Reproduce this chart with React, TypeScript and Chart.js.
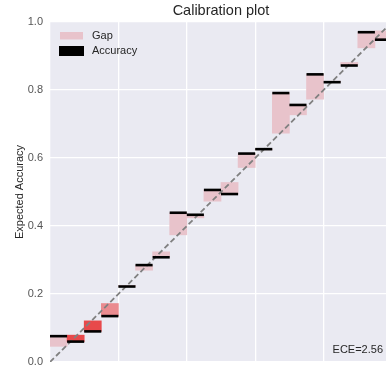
import { useEffect, useRef } from "react";
import { Chart, registerables } from "chart.js";

Chart.register(...registerables);

// Reliability diagram: 20 equal-width confidence bins
const binWidth = 0.05;
const binCenters = [
  0.025, 0.075, 0.125, 0.175, 0.225, 0.275, 0.325, 0.375, 0.425, 0.475,
  0.525, 0.575, 0.625, 0.675, 0.725, 0.775, 0.825, 0.875, 0.925, 0.975,
];
const accuracy = [
  0.076, 0.06, 0.09, 0.135, 0.222, 0.285, 0.308, 0.439, 0.433, 0.506,
  0.494, 0.613, 0.626, 0.791, 0.756, 0.846, 0.823, 0.872, 0.97, 0.948,
];
const confidence = [
  0.046, 0.079, 0.121, 0.172, 0.225, 0.27, 0.324, 0.374, 0.424, 0.473,
  0.528, 0.572, 0.624, 0.673, 0.727, 0.773, 0.826, 0.881, 0.924, 0.974,
];
const gapColors = [
  "#E8C3CB", "#E8494B", "#E8494B", "#EA8B8F", "#E8C3CB", "#E8C3CB", "#E8C3CB",
  "#E8C3CB", "#E8C3CB", "#E8C3CB", "#E8C3CB", "#E8C3CB", "#E8C3CB", "#E8C3CB",
  "#E8C3CB", "#E8C3CB", "#E8C3CB", "#E8C3CB", "#E8C3CB", "#E8C3CB",
];
const yTicks = [0, 0.2, 0.4, 0.6, 0.8, 1.0];
const eceLabel = "ECE=2.56";

const FONT = "'Liberation Sans', Arial, sans-serif";
const PANEL_BG = "#EAEAF2";
const GAP_COLOR = "#E8C3CB";
const TEXT_COLOR = "#262626";

const panelBackground = {
  id: "panelBackground",
  beforeDraw(chart: any) {
    const { ctx, chartArea } = chart;
    ctx.save();
    ctx.fillStyle = PANEL_BG;
    ctx.fillRect(chartArea.left, chartArea.top, chartArea.right - chartArea.left, chartArea.bottom - chartArea.top);
    ctx.restore();
  },
};

const insetAnnotations = {
  id: "insetAnnotations",
  afterDraw(chart: any) {
    const { ctx, chartArea } = chart;
    const ds = chart.data.datasets;
    ctx.save();
    ctx.font = `11px ${FONT}`;
    ctx.textBaseline = "middle";
    ctx.textAlign = "left";
    // legend inside upper-left corner
    const lx = chartArea.left + 10;
    ctx.fillStyle = GAP_COLOR;
    ctx.fillRect(lx, chartArea.top + 10, 23, 7.5);
    ctx.fillStyle = "#000";
    ctx.fillRect(lx - 1, chartArea.top + 24, 25, 10);
    ctx.fillStyle = TEXT_COLOR;
    ctx.fillText(ds[0].label, lx + 32, chartArea.top + 13.5);
    ctx.fillText(ds[2].label, lx + 32, chartArea.top + 29);
    // calibration error, lower-right
    ctx.textAlign = "right";
    ctx.fillText(eceLabel, chartArea.right - 9, chartArea.bottom - 12);
    ctx.restore();
  },
};

export default function App() {
  const canvasRef = useRef<HTMLCanvasElement | null>(null);

  useEffect(() => {
    if (!canvasRef.current) return;
    Chart.defaults.font.family = FONT;

    const halfBin = (ctx: any) => {
      const s = ctx.chart.scales.x;
      return Math.abs(s.getPixelForValue(binWidth) - s.getPixelForValue(0)) / 2;
    };

    const chart = new Chart(canvasRef.current, {
      type: "bar",
      data: {
        datasets: [
          {
            type: "bar",
            label: "Gap",
            data: binCenters.map((x, i) => ({ x, y: [confidence[i], accuracy[i]] })) as any,
            backgroundColor: gapColors,
            borderWidth: 0,
            barPercentage: 1,
            categoryPercentage: 1,
            order: 3,
          },
          {
            type: "line",
            label: "Perfect calibration",
            data: [
              { x: 0, y: 0 },
              { x: 1, y: 1 },
            ],
            borderColor: "#808080",
            borderWidth: 1.8,
            borderDash: [5.5, 3],
            pointRadius: 0,
            fill: false,
            order: 2,
          },
          {
            type: "scatter",
            label: "Accuracy",
            data: binCenters.map((x, i) => ({ x, y: accuracy[i] })),
            pointStyle: "line",
            pointRadius: halfBin,
            pointHoverRadius: halfBin,
            borderColor: "#000",
            backgroundColor: "#000",
            borderWidth: 2.6,
            order: 1,
          },
        ] as any,
      },
      options: {
        responsive: false,
        animation: false,
        devicePixelRatio: 1,
        layout: { padding: { left: 0, right: 8, top: 0, bottom: 38 } },
        plugins: {
          legend: { display: false },
          tooltip: { enabled: false },
          title: {
            display: true,
            fullSize: false,
            text: "Calibration plot",
            color: TEXT_COLOR,
            font: { size: 14.5, weight: "normal", family: FONT },
            padding: { top: 2, bottom: 2.6 },
          },
        },
        scales: {
          x: {
            type: "linear",
            min: 0,
            max: 1,
            offset: false,
            border: { display: false },
            grid: { color: "#FFFFFF", lineWidth: 1.3, drawTicks: false, offset: false },
            ticks: { display: false, stepSize: 0.2 },
          },
          y: {
            type: "linear",
            min: 0,
            max: 1,
            border: { display: false },
            grid: { color: "#FFFFFF", lineWidth: 1.3, drawTicks: false },
            afterFit: (scale: any) => {
              scale.width = 50;
            },
            afterBuildTicks: (scale: any) => {
              scale.ticks = yTicks.map((v) => ({ value: v }));
            },
            ticks: {
              color: "#555555",
              font: { size: 11, family: FONT },
              padding: 7,
              callback: (v: any) => Number(v).toFixed(1),
            },
            title: {
              display: true,
              text: "Expected Accuracy",
              color: TEXT_COLOR,
              font: { size: 11, family: FONT },
              padding: { top: 13, bottom: 0 },
            },
          },
        },
      } as any,
      plugins: [panelBackground, insetAnnotations],
    });

    return () => chart.destroy();
  }, []);

  return (
    <div
      style={{
        position: "fixed",
        left: 0,
        top: 0,
        width: 386,
        height: 369,
        overflow: "hidden",
        background: "#FFFFFF",
      }}
    >
      <canvas ref={canvasRef} width={400} height={400} style={{ display: "block" }} />
    </div>
  );
}
